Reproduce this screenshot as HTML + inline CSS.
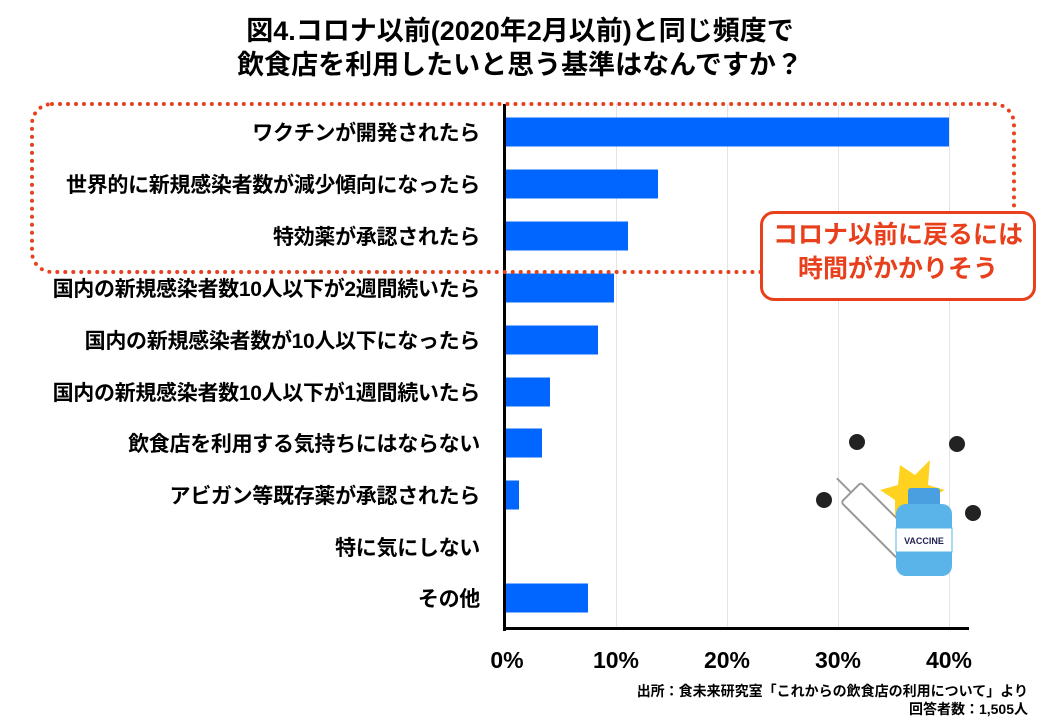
<!DOCTYPE html>
<html><head><meta charset="utf-8"><style>
body{margin:0;width:1040px;height:720px;background:#fff;overflow:hidden;position:relative;font-family:"Liberation Sans","Noto Sans CJK JP",sans-serif;}
.t{position:absolute;font-weight:bold;color:#000;}
.lab{position:absolute;right:560px;font-size:21px;font-weight:bold;white-space:nowrap;transform:translateY(-50%);letter-spacing:-0.3px;}
.bar{position:absolute;left:506px;height:29px;background:#0066ff;transform:translateY(-50%);}
.g{position:absolute;top:104px;height:525px;width:1px;background:#e4e4e4;}
.tick{position:absolute;top:647px;font-size:23px;font-weight:bold;transform:translateX(-50%);}
</style></head><body>
<div class="t" style="left:0;width:1040px;text-align:center;top:14px;font-size:27px;line-height:34px;">図4.コロナ以前(2020年2月以前)と同じ頻度で<br>飲食店を利用したいと思う基準はなんですか？</div>
<div class="g" style="left:616px"></div><div class="g" style="left:727px"></div><div class="g" style="left:838px"></div><div class="g" style="left:949px"></div>
<div style="position:absolute;left:503px;top:104px;width:3px;height:527px;background:#000"></div>
<div style="position:absolute;left:503px;top:627px;width:466px;height:3px;background:#000"></div>
<div class="lab" style="top:132px">ワクチンが開発されたら</div><div class="bar" style="top:132px;width:443px"></div>
<div class="lab" style="top:184px">世界的に新規感染者数が減少傾向になったら</div><div class="bar" style="top:184px;width:152px"></div>
<div class="lab" style="top:236px">特効薬が承認されたら</div><div class="bar" style="top:236px;width:122px"></div>
<div class="lab" style="top:288px">国内の新規感染者数10人以下が2週間続いたら</div><div class="bar" style="top:288px;width:108px"></div>
<div class="lab" style="top:340px">国内の新規感染者数が10人以下になったら</div><div class="bar" style="top:340px;width:92px"></div>
<div class="lab" style="top:392px">国内の新規感染者数10人以下が1週間続いたら</div><div class="bar" style="top:392px;width:44px"></div>
<div class="lab" style="top:443px">飲食店を利用する気持ちにはならない</div><div class="bar" style="top:443px;width:36px"></div>
<div class="lab" style="top:495px">アビガン等既存薬が承認されたら</div><div class="bar" style="top:495px;width:13px"></div>
<div class="lab" style="top:547px">特に気にしない</div>
<div class="lab" style="top:598px">その他</div><div class="bar" style="top:598px;width:82px"></div>
<div class="tick" style="left:507px">0%</div><div class="tick" style="left:616px">10%</div><div class="tick" style="left:727px">20%</div><div class="tick" style="left:838px">30%</div><div class="tick" style="left:949px">40%</div>
<div style="position:absolute;left:30px;top:102px;width:978px;height:164px;border:4px dotted #e8401c;border-radius:22px;"></div>
<div style="position:absolute;left:760px;top:211px;width:270px;height:80px;border:3px solid #e8401c;border-radius:14px;background:#fff;color:#e8401c;font-weight:bold;font-size:25px;line-height:34px;text-align:center;padding-top:4px;box-sizing:content-box;">コロナ以前に戻るには<br>時間がかかりそう</div>
<svg style="position:absolute;left:810px;top:430px" width="180" height="150" viewBox="0 0 180 150">
<polygon points="90,35 105,45 120,30 118,55 135,60 115,70 120,90 100,80 85,95 85,70 70,60 88,55" fill="#ffd21f"/>
<g transform="rotate(-45 70 90)"><rect x="55" y="50" width="28" height="80" rx="3" fill="#fff" stroke="#999" stroke-width="2"/><rect x="62" y="130" width="14" height="14" fill="#ddd" stroke="#999" stroke-width="2"/><rect x="52" y="144" width="34" height="6" fill="#eee" stroke="#999"/><line x1="69" y1="50" x2="69" y2="30" stroke="#999" stroke-width="2"/></g>
<rect x="98" y="58" width="32" height="18" rx="3" fill="#4a9fe0"/>
<rect x="86" y="74" width="56" height="72" rx="10" fill="#5ab4ea"/>
<rect x="86" y="98" width="56" height="24" fill="#fff" stroke="#5ab4ea"/>
<text x="114" y="114" font-size="9" font-weight="bold" text-anchor="middle" fill="#225" font-family="Liberation Sans">VACCINE</text>
<g fill="#222"><circle cx="47" cy="12" r="8"/><circle cx="147" cy="14" r="8"/><circle cx="14" cy="70" r="8"/><circle cx="163" cy="83" r="8"/></g>
</svg>
<div class="t" style="right:12px;top:682px;font-size:14px;text-align:right;line-height:18px;">出所：食未来研究室「これからの飲食店の利用について」より<br>回答者数：1,505人</div>
</body></html>
